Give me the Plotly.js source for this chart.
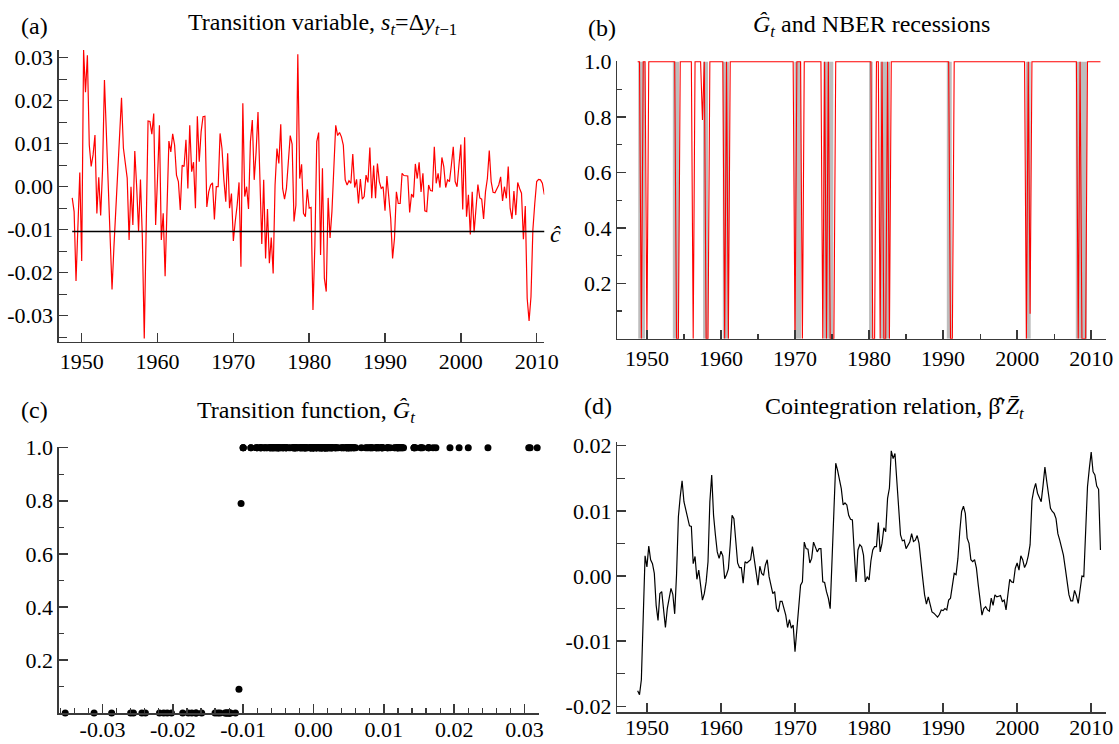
<!DOCTYPE html>
<html><head><meta charset="utf-8">
<script src="https://cdn.plot.ly/plotly-3.0.1.min.js"></script>
<style>html,body{margin:0;padding:0;background:#fff}#chart{width:1119px;height:744px}</style>
</head><body><div id="chart"></div><script>
const W = 1119, H = 744;

// quarterly sample, first observation 1948Q4
const startYear = 1948.75;

// (a) transition variable s_t = Δy_{t-1}
const transVar = [
 -0.0026,-0.0058,-0.0219,-0.008,0.0033,-0.0173,0.0318,0.022,0.0306,0.0097,
 0.0047,0.0074,0.012,-0.0062,0.0022,-0.0067,0.004,0.0248,0.012,0.002,
 -0.010,-0.0239,-0.014,-0.006,0.004,0.012,0.0207,0.009,0.006,0.002,
 -0.0124,0.0,-0.0089,0.0083,0.0,-0.0103,0.0017,-0.012,-0.0353,-0.01,
 0.0153,0.0152,0.0122,0.017,-0.0089,0.002,0.0143,-0.0124,-0.0062,-0.0208,
 -0.005,0.0106,0.0081,0.0123,0.0097,0.0027,0.0012,-0.0054,0.005,0.0047,
 0.0109,-0.0004,0.0143,0.0035,0.0057,-0.005,0.0164,0.0058,0.0128,0.0163,
 0.0164,-0.0047,-0.0012,0.0004,0.0009,-0.0076,0.0,0.0,0.0124,0.0089,
 0.0016,-0.0035,0.0078,-0.005,-0.0016,-0.0126,-0.0081,-0.0043,0.001,-0.0186,
 0.0194,-0.0023,0.0,-0.0052,0.0105,0.0155,0.0016,0.0081,0.0174,0.0023,
 -0.0133,0.0016,-0.0167,-0.0052,-0.0178,-0.0118,-0.0202,0.0004,0.0089,0.0054,
 0.0145,-0.0004,-0.0029,-0.0004,0.005,0.0119,0.0099,-0.0081,-0.0043,0.0308,
 0.0019,0.0052,-0.0062,-0.007,-0.0006,-0.005,-0.0048,-0.0287,-0.0136,0.0105,
 0.0126,-0.0159,0.0043,-0.0213,-0.0244,-0.0026,-0.0119,-0.0058,0.0043,0.0143,
 0.0119,0.0126,0.0116,0.0097,0.0016,0.0004,0.0014,0.0008,0.0076,-0.0002,
 0.0017,-0.0039,0.0018,-0.0029,-0.0023,0.0027,0.001,0.0091,-0.0027,0.0049,
 -0.0027,0.0054,0.0012,-0.0004,0.0,-0.0056,0.0025,-0.0019,-0.0074,-0.0167,
 -0.012,-0.0012,-0.0039,-0.0039,0.0031,0.0026,0.0025,0.0025,-0.006,-0.0017,
 -0.0025,0.0053,0.0019,0.0057,-0.0012,0.0031,-0.0056,-0.0058,0.0004,-0.0009,
 -0.001,0.0093,0.0008,0.0031,-0.0002,0.0068,0.0047,-0.0002,0.0016,0.0012,
 0.005,0.0093,0.0012,0.0,0.005,0.0098,-0.0053,0.0115,-0.007,-0.0019,
 -0.0111,-0.0012,-0.0106,-0.0043,0.0005,-0.0026,-0.0029,-0.0075,-0.0012,0.0019,
 0.0084,0.0012,-0.0013,-0.0014,-0.0004,0.0004,0.0023,-0.0033,0.0,-0.0027,
 0.0047,-0.005,-0.0075,-0.001,-0.0066,0.001,-0.0004,-0.0015,-0.0122,-0.0045,
 -0.026,-0.0312,-0.0256,-0.01,-0.0039,0.0012,0.0017,0.0016,0.0008,-0.0017,
 -0.0019
];

// estimated threshold c-hat
const cHat = -0.0104;

// (b)/(c) estimated transition function G_t
const Ghat = [
 1,1,0,1,1,0,1,1,1,1, 1,1,1,1,1,1,1,1,1,1,
 1,0,0,1,1,1,1,1,1,1, 0,1,1,1,1,0.79,1,0,0,1,
 1,1,1,1,1,1,1,0,1,0, 1,1,1,1,1,1,1,1,1,1,
 1,1,1,1,1,1,1,1,1,1, 1,1,1,1,1,1,1,1,1,1,
 1,1,1,1,1,0,1,1,1,0, 1,1,1,1,1,1,1,1,1,1,
 0,1,0,1,0,0,0,1,1,1, 1,1,1,1,1,1,1,1,1,1,
 1,1,1,1,1,1,1,0,0,1, 1,0,1,0,0,1,0,1,1,1,
 1,1,1,1,1,1,1,1,1,1, 1,1,1,1,1,1,1,1,1,1,
 1,1,1,1,1,1,1,1,1,0, 0,1,1,1,1,1,1,1,1,1,
 1,1,1,1,1,1,1,1,1,1, 1,1,1,1,1,1,1,1,1,1,
 1,1,1,1,1,1,1,1,1,1, 0,1,0.09,1,1,1,1,1,1,1,
 1,1,1,1,1,1,1,1,1,1, 1,1,1,1,1,1,1,1,0,1,
 0,0,0,1,1,1,1,1,1,1,1
];

// (d) cointegration relation
const coint = [
 -0.0176,-0.0182,-0.0159,-0.007,0.0031,0.0014,0.0046,0.0025,0.0019,0.0004,
 -0.0045,-0.0068,-0.0027,-0.0024,-0.0053,-0.0079,-0.005,-0.0032,-0.0019,-0.0028,
 -0.0058,0.0002,0.0091,0.0122,0.0146,0.0114,0.0103,0.0089,0.0077,0.0076,
 0.0019,0.003,-0.0005,0.0009,-0.0014,-0.0037,-0.0027,-0.0009,0.0022,0.0114,
 0.0155,0.0093,0.0063,0.0037,0.0027,0.0038,0.0031,-0.0004,0.0002,0.0011,
 0.0048,0.0093,0.0088,0.0053,0.002,0.0013,0.0013,-0.0011,0.0022,0.002,
 0.0023,0.0025,0.0045,0.0025,0.0007,-0.0014,0.0015,0.0004,0.0001,0.0017,
 0.0025,-0.0001,-0.0014,-0.0027,-0.0024,-0.005,-0.0055,-0.0039,-0.0039,-0.005,
 -0.006,-0.0079,-0.0067,-0.008,-0.0075,-0.0116,-0.0085,-0.005,-0.0014,-0.0009,
 0.0052,0.0042,0.0041,0.002,0.0027,0.0052,0.0043,0.0037,0.0042,0.0042,
 -0.0009,-0.001,-0.0024,-0.0034,-0.005,0.0022,0.0088,0.0173,0.0162,0.015,
 0.0134,0.0109,0.0112,0.0109,0.0093,0.0087,0.0086,0.0037,-0.0009,0.004,
 0.0048,0.0045,0.0032,-0.0009,-0.0001,-0.0006,0.0023,0.004,0.0045,0.0045,
 0.0082,0.0037,0.005,0.0074,0.0068,0.0119,0.0135,0.0192,0.018,0.0188,
 0.015,0.0104,0.0063,0.0054,0.0055,0.0042,0.0048,0.0052,0.0065,0.0053,
 0.0055,0.0062,0.005,0.0027,-0.0004,-0.0029,-0.0043,-0.0032,-0.0046,-0.0055,
 -0.0057,-0.006,-0.0063,-0.0059,-0.0052,-0.0053,-0.005,-0.0052,-0.0037,-0.0034,
 -0.0014,0.0004,0.0002,0.0027,0.0068,0.0099,0.0107,0.0096,0.0058,0.005,
 0.0025,0.0022,0.0025,0.0012,-0.0014,-0.0039,-0.006,-0.005,-0.0047,-0.0052,
 -0.0054,-0.0034,-0.0045,-0.0029,-0.0032,-0.0031,-0.003,-0.0039,-0.0037,-0.0052,
 -0.0024,-0.0005,-0.0009,-0.001,0.0012,0.002,0.0009,0.0031,0.0025,0.0013,
 0.0019,0.0031,0.0048,0.0116,0.0132,0.0142,0.0127,0.012,0.0114,0.0139,
 0.0167,0.0145,0.0124,0.0104,0.0099,0.0096,0.0088,0.0065,0.0055,0.0045,
 0.0032,0.0012,-0.0011,-0.0029,-0.0038,-0.0038,-0.0022,-0.003,-0.0042,-0.002,
 0.0,-0.0001,0.006,0.0137,0.0165,0.019,0.016,0.0155,0.0138,0.0133,
 0.004
];

// NBER recession dates (decimal years)
const nberStart = [1948.83,1953.50,1957.58,1960.25,1969.92,1973.83,1980.00,1981.50,1990.50,2001.17,2007.92];
const nberEnd   = [1949.75,1954.33,1958.25,1961.08,1970.83,1975.17,1980.50,1982.83,1991.17,2001.83,2009.42];

// tick labels
const yearTicks = [1950,1960,1970,1980,1990,2000,2010];
const sTickVals = [-0.03,-0.02,-0.01,0,0.01,0.02,0.03];
const sTickText = ['-0.03','-0.02','-0.01','0.00','0.01','0.02','0.03'];
const gTickVals = [0.2,0.4,0.6,0.8,1.0];
const gTickText = ['0.2','0.4','0.6','0.8','1.0'];
const zTickVals = [-0.02,-0.01,0,0.01,0.02];
const zTickText = ['-0.02','-0.01','0.00','0.01','0.02'];

const dates = transVar.map((_, i) => startYear + i / 4);

const FONT = 'Liberation Serif, Times New Roman, serif';
const AX = '#3a3a3a';
const hd = (a, b) => [a / W, b / W];
const vd = (top, bot) => [1 - bot / H, 1 - top / H];

function axis(extra) {
  return Object.assign({
    showline: true, linecolor: AX, linewidth: 1.5, mirror: false,
    ticks: 'inside', tickcolor: AX, tickwidth: 1.5, ticklen: 9,
    showgrid: false, zeroline: false, fixedrange: true,
    tickfont: {family: FONT, size: 22, color: '#000'}
  }, extra);
}
function minor(d, len) {
  return {ticks: 'inside', tickmode: 'linear', tick0: 0, dtick: d, ticklen: len, tickcolor: AX, tickwidth: 1.2, showgrid: false};
}

const traces = [
  {x: dates, y: transVar, type: 'scatter', mode: 'lines', line: {color: '#ff0000', width: 1.2}, xaxis: 'x', yaxis: 'y', hoverinfo: 'skip'},
  {x: [dates[0], dates[dates.length - 1]], y: [cHat, cHat], type: 'scatter', mode: 'lines', line: {color: '#000', width: 1.4}, xaxis: 'x', yaxis: 'y', hoverinfo: 'skip'},
  {x: dates, y: Ghat, type: 'scatter', mode: 'lines', line: {color: '#ff0000', width: 1.1}, xaxis: 'x2', yaxis: 'y2', hoverinfo: 'skip'},
  {x: transVar, y: Ghat, type: 'scatter', mode: 'markers', marker: {color: '#000', size: 7}, cliponaxis: false, xaxis: 'x3', yaxis: 'y3', hoverinfo: 'skip'},
  {x: dates, y: coint, type: 'scatter', mode: 'lines', line: {color: '#000', width: 1.2}, xaxis: 'x4', yaxis: 'y4', hoverinfo: 'skip'}
];

const shapes = nberStart.map((s, i) => ({
  type: 'rect', xref: 'x2', yref: 'y2', x0: s, x1: nberEnd[i], y0: 0, y1: 1,
  fillcolor: '#bdbdbd', line: {width: 0}, layer: 'below'
}));

function ann(text, px, py, size) {
  return {text: text, xref: 'paper', yref: 'paper', x: px / W, y: 1 - py / H,
          xanchor: 'center', yanchor: 'middle', showarrow: false,
          font: {family: FONT, size: size || 24, color: '#000'}};
}

const layout = {
  width: W, height: H, margin: {l: 0, r: 0, t: 0, b: 0},
  paper_bgcolor: '#fff', plot_bgcolor: 'rgba(0,0,0,0)', showlegend: false,
  xaxis: axis({domain: hd(58.95, 544.25), range: [1947, 2011], tickvals: yearTicks, anchor: 'y', ticklabelstandoff: -1}),
  yaxis: axis({domain: vd(50, 341.7), range: [-0.03605, 0.0318], tickvals: sTickVals, ticktext: sTickText, minor: minor(0.005, 8), anchor: 'x'}),
  xaxis2: axis({domain: hd(617.3, 1106), range: [1946, 2012], tickvals: yearTicks, minor: minor(5, 4.5), anchor: 'y2', ticklabelstandoff: -1}),
  yaxis2: axis({domain: vd(61, 338.7), range: [0, 1.0025], tickvals: gTickVals, ticktext: gTickText, minor: minor(0.1, 5), anchor: 'x2'}),
  xaxis3: axis({domain: hd(58.9, 539.3), range: [-0.0362, 0.0321], tickvals: sTickVals, ticktext: sTickText, minor: minor(0.002, 5), anchor: 'y3', ticklabelstandoff: -4}),
  yaxis3: axis({domain: vd(446.6, 713.1), range: [0, 1.004], tickvals: gTickVals, ticktext: gTickText, minor: minor(0.1, 5), anchor: 'x3'}),
  xaxis4: axis({domain: hd(617.3, 1106), range: [1946, 2012], tickvals: yearTicks, anchor: 'y4', ticklabelstandoff: -5}),
  yaxis4: axis({domain: vd(441.7, 712.3), range: [-0.0209, 0.0206], tickvals: zTickVals, ticktext: zTickText, minor: minor(0.005, 8), anchor: 'x4'}),
  shapes: shapes,
  annotations: [
    ann('(a)', 34, 26),
    ann('Transition variable, <i>s</i><sub><i>t</i></sub>=Δ<i>y</i><sub><i>t</i>−1</sub>', 322, 24),
    ann('<i>ĉ</i>', 555, 234),
    ann('(b)', 602, 28),
    ann('<i>Ĝ</i><sub><i>t</i></sub> and NBER recessions', 871, 26),
    ann('(c)', 34, 410),
    ann('Transition function, <i>Ĝ</i><sub><i>t</i></sub>', 306, 412),
    ann('(d)', 598, 406),
    ann('Cointegration relation, β̂′<i>Z̄</i><sub><i>t</i></sub>', 894, 408)
  ]
};

Plotly.newPlot('chart', traces, layout, {staticPlot: true, displayModeBar: false});
</script></body></html>
